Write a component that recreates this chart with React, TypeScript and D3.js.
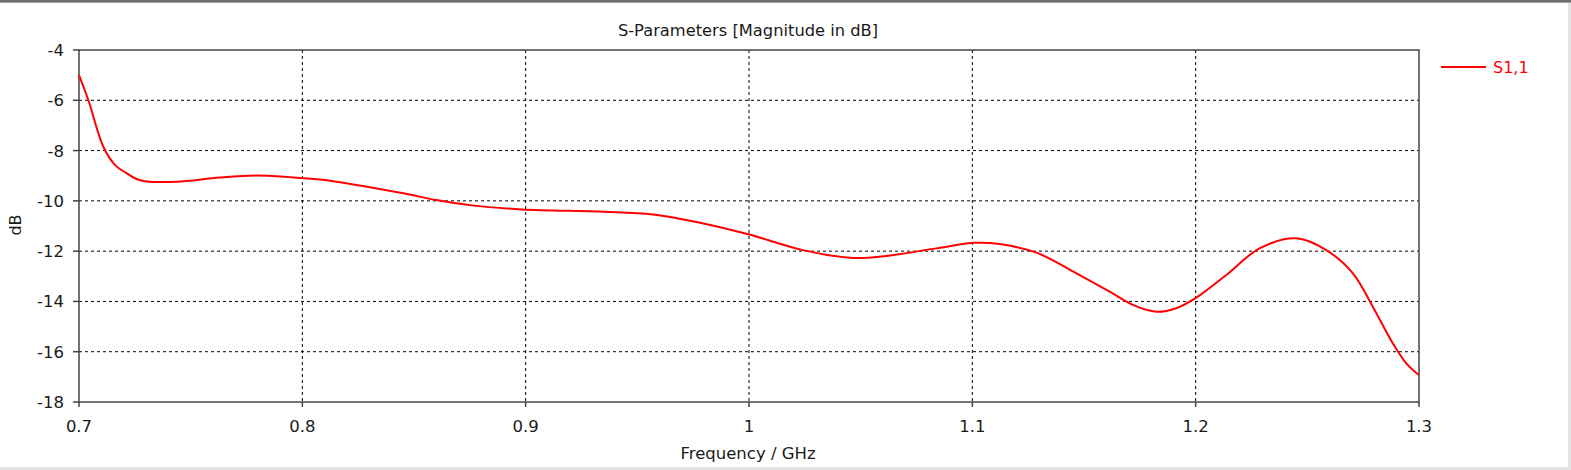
import React from "react";
import * as d3 from "d3";

const freq = [0.7, 0.7042, 0.7109, 0.7161, 0.7213, 0.7255, 0.7295, 0.7437, 0.763, 0.7795, 0.796, 0.808, 0.8452, 0.86, 0.875, 0.8985, 0.9347, 0.957, 0.9795, 0.9997, 1.0242, 1.0466, 1.0615, 1.0839, 1.101, 1.1123, 1.1287, 1.1466, 1.1615, 1.1719, 1.1824, 1.1913, 1.2003, 1.2137, 1.2286, 1.2451, 1.2585, 1.2704, 1.2793, 1.2883, 1.2943, 1.3];
const s11 = [-5.0, -6.0, -7.85, -8.57, -8.9, -9.12, -9.22, -9.24, -9.07, -8.99, -9.07, -9.15, -9.7, -9.97, -10.17, -10.34, -10.43, -10.54, -10.9, -11.33, -11.96, -12.27, -12.19, -11.89, -11.67, -11.72, -12.06, -12.88, -13.61, -14.14, -14.41, -14.27, -13.85, -12.95, -11.89, -11.49, -11.96, -12.88, -14.21, -15.67, -16.46, -16.93];
const xTicks = [0.7, 0.8, 0.9, 1, 1.1, 1.2, 1.3];
const yTicks = [-4, -6, -8, -10, -12, -14, -16, -18];
const title = "S-Parameters [Magnitude in dB]";
const xLabel = "Frequency / GHz";
const yLabel = "dB";
const seriesName = "S1,1";

const W = 1571, H = 470;
const L = 79, R = 1419, T = 50, B = 402;
const FONT = "'DejaVu Sans', sans-serif";

export default function App() {
  const x = d3.scaleLinear().domain([0.7, 1.3]).range([L, R]);
  const y = d3.scaleLinear().domain([-18, -4]).range([B, T]);
  const pts = freq.map((f, i) => [f, s11[i]] as [number, number]);
  const line = d3.line<[number, number]>().x(d => x(d[0])).y(d => y(d[1])).curve(d3.curveCatmullRom.alpha(0.5));
  return (
    <svg width={W} height={H} style={{ position: "absolute", left: 0, top: 0, background: "#fff" }}>
      <rect x={0} y={0} width={W} height={H} fill="#fff" />
      {/* window borders */}
      <rect x={0} y={0} width={W} height={2} fill="#6e6e6e" />
      <rect x={0} y={2} width={W} height={1} fill="#a0a0a0" />
      <rect x={1568} y={3} width={3} height={H} fill="#e3e3e3" />
      <rect x={0} y={467} width={W} height={3} fill="#e3e3e3" />
      <text x={748} y={36} textAnchor="middle" fontFamily={FONT} fontSize={16.3} fill="#1a1a1a">{title}</text>
      {/* grid */}
      {xTicks.slice(1, -1).map(t => (
        <line key={"gx" + t} x1={x(t)} x2={x(t)} y1={T} y2={B} stroke="#000" strokeWidth={1} strokeDasharray="3,3" />
      ))}
      {yTicks.slice(1, -1).map(t => (
        <line key={"gy" + t} x1={L} x2={R} y1={y(t)} y2={y(t)} stroke="#000" strokeWidth={1} strokeDasharray="3,3" />
      ))}
      {/* frame */}
      <rect x={L} y={T} width={R - L} height={B - T} fill="none" stroke="#444" strokeWidth={1.5} />
      {xTicks.map(t => (
        <g key={"xt" + t}>
          <line x1={x(t)} x2={x(t)} y1={B} y2={B + 5} stroke="#444" strokeWidth={1.5} />
          <text x={x(t)} y={432} textAnchor="middle" fontFamily={FONT} fontSize={16.5} fill="#1a1a1a">{d3.format("")(t)}</text>
        </g>
      ))}
      {yTicks.map(t => (
        <g key={"yt" + t}>
          <line x1={L - 6} x2={L} y1={y(t)} y2={y(t)} stroke="#444" strokeWidth={1.5} />
          <text x={64} y={y(t)} dy="0.36em" textAnchor="end" fontFamily={FONT} fontSize={16.5} fill="#1a1a1a">{t}</text>
        </g>
      ))}
      <text x={748} y={459} textAnchor="middle" fontFamily={FONT} fontSize={16.5} fill="#1a1a1a">{xLabel}</text>
      <text transform="translate(21,225) rotate(-90)" textAnchor="middle" fontFamily={FONT} fontSize={16} fill="#1a1a1a">{yLabel}</text>
      <path d={line(pts) || ""} fill="none" stroke="#ff0000" strokeWidth={2} />
      {/* legend */}
      <line x1={1441} x2={1486} y1={67} y2={67} stroke="#ff0000" strokeWidth={2} />
      <text x={1493} y={67} dy="0.36em" fontFamily={FONT} fontSize={16} fill="#ff0000">{seriesName}</text>
    </svg>
  );
}
